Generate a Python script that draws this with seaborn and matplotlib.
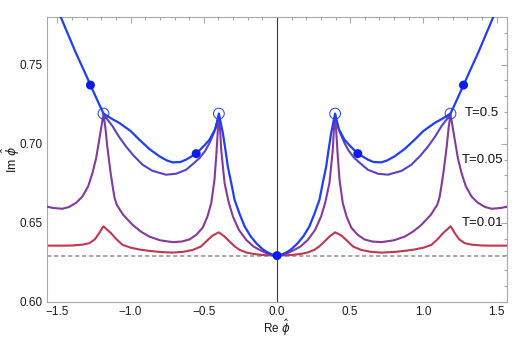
import matplotlib
matplotlib.use('Agg')
import matplotlib.pyplot as plt
from matplotlib.ticker import MultipleLocator, FuncFormatter
import seaborn as sns

# ---- data ----
X_LIM = (-1.5708, 1.5708)
Y_LIM = (0.60, 0.78)
BASELINE = 0.6293

# T=0.5 (blue)
blue_x = [-1.52, -1.477, -1.42, -1.374, -1.32, -1.274, -1.23, -1.185, -1.13, -1.077,
          -1.0, -0.94, -0.87, -0.803, -0.75, -0.712, -0.66, -0.621, -0.552, -0.50,
          -0.461, -0.42, -0.397, -0.385, -0.370, -0.352, -0.336, -0.31, -0.290, -0.255,
          -0.221, -0.18, -0.141, -0.10, -0.073, -0.04, 0.0,
          0.04, 0.073, 0.10, 0.141, 0.18, 0.221, 0.255, 0.290, 0.31, 0.336,
          0.352, 0.370, 0.385, 0.397, 0.42, 0.461, 0.50, 0.552, 0.621, 0.66,
          0.712, 0.75, 0.803, 0.87, 0.94, 1.0, 1.077, 1.13, 1.185, 1.23,
          1.274, 1.32, 1.374, 1.42, 1.477, 1.52]
blue_y = [0.789, 0.780, 0.7675, 0.7574, 0.7465, 0.737, 0.728, 0.719, 0.7158, 0.7131,
          0.7080, 0.7025, 0.6965, 0.692, 0.6893, 0.6882, 0.6884, 0.6899, 0.6937, 0.6985,
          0.7025, 0.7095, 0.719, 0.7135, 0.7068, 0.696, 0.6856, 0.674, 0.6646, 0.6555,
          0.6477, 0.6415, 0.6371, 0.6335, 0.6318, 0.6302, 0.6293,
          0.6302, 0.6318, 0.6335, 0.6371, 0.6415, 0.6477, 0.6555, 0.6646, 0.674, 0.6856,
          0.696, 0.7068, 0.7135, 0.719, 0.7095, 0.7025, 0.6985, 0.6937, 0.6899, 0.6884,
          0.6882, 0.6893, 0.692, 0.6965, 0.7025, 0.7080, 0.7131, 0.7158, 0.719, 0.728,
          0.737, 0.7465, 0.7574, 0.7675, 0.780, 0.789]

# intermediate arcs between the branch points (blue-violet)
arc_left_x = [-1.185, -1.16, -1.123, -1.08, -1.032, -0.98, -0.918, -0.85, -0.758,
              -0.69, -0.621, -0.57, -0.529, -0.49, -0.461, -0.43, -0.397]
arc_left_y = [0.719, 0.7155, 0.711, 0.7045, 0.6983, 0.6925, 0.6867, 0.6828, 0.6804,
              0.681, 0.6835, 0.6875, 0.6909, 0.6955, 0.7004, 0.707, 0.7175]
arc_right_x = [0.397, 0.43, 0.461, 0.49, 0.529, 0.57, 0.621, 0.69, 0.758,
               0.85, 0.918, 0.98, 1.032, 1.08, 1.123, 1.16, 1.185]
arc_right_y = [0.7175, 0.707, 0.7004, 0.6955, 0.6909, 0.6875, 0.6835, 0.681, 0.6804,
               0.6828, 0.6867, 0.6925, 0.6983, 0.7045, 0.711, 0.7155, 0.719]

# T=0.05 (purple)
purple_x = [-1.575, -1.53, -1.466, -1.42, -1.37, -1.329, -1.29, -1.26, -1.235, -1.214,
            -1.197, -1.185, -1.172, -1.160, -1.148, -1.137, -1.124, -1.110, -1.095, -1.05,
            -0.986, -0.93, -0.872, -0.80, -0.712, -0.65, -0.598, -0.55, -0.507, -0.475,
            -0.449, -0.427, -0.415, -0.405, -0.397, -0.388, -0.381, -0.368, -0.358, -0.33,
            -0.301, -0.26, -0.210, -0.16, -0.118, -0.06, 0.0,
            0.06, 0.118, 0.16, 0.210, 0.26, 0.301, 0.33, 0.358, 0.368, 0.381,
            0.388, 0.397, 0.405, 0.415, 0.427, 0.449, 0.475, 0.507, 0.55, 0.598,
            0.65, 0.712, 0.80, 0.872, 0.93, 0.986, 1.05, 1.095, 1.110, 1.124,
            1.137, 1.148, 1.160, 1.172, 1.185, 1.197, 1.214, 1.235, 1.26, 1.29,
            1.329, 1.37, 1.42, 1.466, 1.53, 1.575]
purple_y = [0.6603, 0.6594, 0.6589, 0.6600, 0.6628, 0.6666, 0.6730, 0.6815, 0.6910, 0.7025,
            0.7120, 0.7185, 0.7100, 0.6990, 0.6900, 0.6820, 0.6740, 0.6660, 0.6615, 0.6550,
            0.6487, 0.6445, 0.6413, 0.6390, 0.6378, 0.6382, 0.6395, 0.6425, 0.6470, 0.6540,
            0.6625, 0.6772, 0.6920, 0.7070, 0.7180, 0.7080, 0.6962, 0.6840, 0.6751, 0.6630,
            0.6540, 0.6455, 0.6392, 0.6350, 0.6329, 0.6303, 0.6293,
            0.6303, 0.6329, 0.6350, 0.6392, 0.6455, 0.6540, 0.6630, 0.6751, 0.6840, 0.6962,
            0.7080, 0.7180, 0.7070, 0.6920, 0.6772, 0.6625, 0.6540, 0.6470, 0.6425, 0.6395,
            0.6382, 0.6378, 0.6390, 0.6413, 0.6445, 0.6487, 0.6550, 0.6615, 0.6660, 0.6740,
            0.6820, 0.6900, 0.6990, 0.7100, 0.7185, 0.7120, 0.7025, 0.6910, 0.6815, 0.6730,
            0.6666, 0.6628, 0.6600, 0.6589, 0.6594, 0.6603]

# T=0.01 (red)
red_x = [-1.575, -1.45, -1.397, -1.33, -1.283, -1.245, -1.214, -1.195, -1.185, -1.170,
         -1.134, -1.095, -1.055, -1.00, -0.93, -0.872, -0.80, -0.712, -0.64, -0.575,
         -0.52, -0.484, -0.44, -0.397, -0.36, -0.324, -0.29, -0.255, -0.21, -0.164,
         -0.10, 0.0,
         0.10, 0.164, 0.21, 0.255, 0.29, 0.324, 0.36, 0.397, 0.44, 0.484,
         0.52, 0.575, 0.64, 0.712, 0.80, 0.872, 0.93, 1.00, 1.055, 1.095,
         1.134, 1.170, 1.185, 1.195, 1.214, 1.245, 1.283, 1.33, 1.397, 1.45, 1.575]
red_y = [0.6356, 0.6356, 0.6357, 0.6362, 0.6371, 0.6395, 0.6435, 0.6465, 0.6478, 0.6465,
         0.6435, 0.6395, 0.6361, 0.6343, 0.6330, 0.6323, 0.6316, 0.6312, 0.6317, 0.6329,
         0.6350, 0.6382, 0.6420, 0.6440, 0.6415, 0.6382, 0.6352, 0.6329, 0.6313, 0.6304,
         0.6297, 0.6293,
         0.6297, 0.6304, 0.6313, 0.6329, 0.6352, 0.6382, 0.6415, 0.6440, 0.6420, 0.6382,
         0.6350, 0.6329, 0.6317, 0.6312, 0.6316, 0.6323, 0.6330, 0.6343, 0.6361, 0.6395,
         0.6435, 0.6465, 0.6478, 0.6465, 0.6435, 0.6395, 0.6371, 0.6362, 0.6357, 0.6356, 0.6356]

# marked points
dot_x = [-1.274, -0.552, 0.0, 0.552, 1.274]
dot_y = [0.737, 0.6937, 0.6293, 0.6937, 0.737]
ring_x = [-1.185, -0.397, 0.397, 1.185]
ring_y = [0.719, 0.719, 0.719, 0.719]

curve_labels = ['T=0.5', 'T=0.05', 'T=0.01']
label_x = [1.279, 1.263, 1.261]
label_y = [0.7196, 0.6899, 0.6498]

BLUE = '#1f3ff5'
VIOLET = '#5a41c6'
PURPLE = '#843a9c'
RED = '#c0384f'

sns.set_style('white')
plt.rcParams['font.family'] = ['Liberation Sans', 'DejaVu Sans']
plt.rcParams['mathtext.fontset'] = 'dejavusans'

fig = plt.figure(figsize=(5.25, 3.38), dpi=100)
ax = fig.add_axes([47 / 525, 1 - 302 / 338, 460 / 525, 285 / 338])

# reference lines
ax.axhline(BASELINE, color='#9a9a9a', lw=1.2, dashes=(2.6, 1.6), zorder=1)
ax.axvline(0, color='#3a3a3a', lw=0.8, zorder=1)

sns.lineplot(x=red_x, y=red_y, sort=False, estimator=None, color=RED, lw=1.5, ax=ax, zorder=2)
sns.lineplot(x=purple_x, y=purple_y, sort=False, estimator=None, color=PURPLE, lw=1.5, ax=ax, zorder=3)
sns.lineplot(x=arc_left_x, y=arc_left_y, sort=False, estimator=None, color=VIOLET, lw=1.5, ax=ax, zorder=3)
sns.lineplot(x=arc_right_x, y=arc_right_y, sort=False, estimator=None, color=VIOLET, lw=1.5, ax=ax, zorder=3)
sns.lineplot(x=blue_x, y=blue_y, sort=False, estimator=None, color=BLUE, lw=1.6, ax=ax, zorder=4)

ax.scatter(ring_x, ring_y, s=60, facecolors='none', edgecolors=BLUE, linewidths=0.7, zorder=5)
sns.scatterplot(x=dot_x, y=dot_y, s=42, color='#0a1cf0', edgecolor='none', ax=ax, zorder=6)

for lab, lx, ly in zip(curve_labels, label_x, label_y):
    ax.text(lx, ly, lab, fontsize=9.5, ha='left', va='center', color='#111111', zorder=7)

ax.set_xlim(*X_LIM)
ax.set_ylim(*Y_LIM)

# Mathematica-like frame
ax.xaxis.set_major_locator(MultipleLocator(0.5))
ax.xaxis.set_minor_locator(MultipleLocator(0.1))
ax.yaxis.set_major_locator(MultipleLocator(0.05))
ax.yaxis.set_minor_locator(MultipleLocator(0.01))
ax.xaxis.set_major_formatter(FuncFormatter(lambda v, p: f'{v:.1f}'.replace('-', '\u2212')))
ax.yaxis.set_major_formatter(FuncFormatter(lambda v, p: f'{v:.2f}'))
ax.tick_params(which='both', direction='in', top=True, right=True, color='#a8a8a8',
               labelsize=8.5, labelcolor='#1a1a1a', width=0.8)
ax.tick_params(which='major', length=4.5, pad=3)
ax.tick_params(which='minor', length=2.5)
for sp in ax.spines.values():
    sp.set_color('#a8a8a8')
    sp.set_linewidth(0.8)

# axis labels placed in figure pixels (as in the reference)
fig.text(277 / 525, 1 - 328 / 338, r'Re $\hat{\phi}$', fontsize=8.5, color='#1a1a1a',
         ha='center', va='center')
fig.text(11 / 525, 1 - 159 / 338, r'Im $\hat{\phi}$', fontsize=9, color='#1a1a1a',
         ha='center', va='center', rotation=90)

plt.savefig('out.png', dpi=100)
plt.close()
